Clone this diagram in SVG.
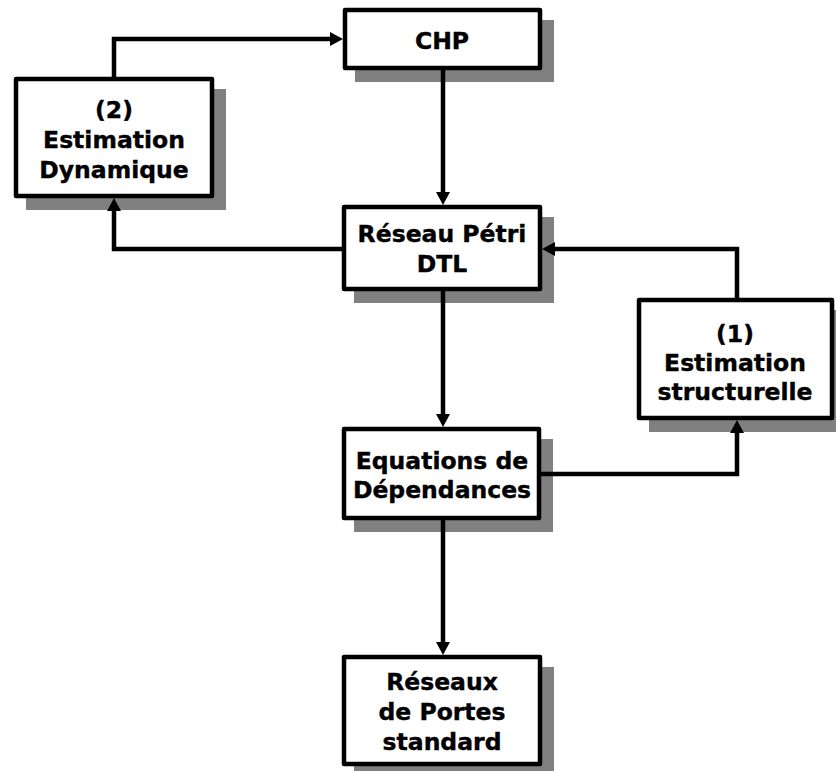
<svg xmlns="http://www.w3.org/2000/svg" width="836" height="771" viewBox="0 0 836 771">
<style>
.shadow{fill:#808080;stroke:none}
.box{fill:#ffffff;stroke:#000000;stroke-width:4.5;stroke-linejoin:round}
.lbl{font-family:"DejaVu Sans","Liberation Sans",sans-serif;font-weight:bold;font-size:23.5px;fill:#000000;text-anchor:middle;stroke:#000000;stroke-width:0.4}
.conn{fill:none;stroke:#000000;stroke-width:4.5;stroke-linejoin:miter}
</style>
<defs>
<marker id="arr" markerUnits="userSpaceOnUse" markerWidth="14" markerHeight="14" refX="5" refY="7" orient="auto">
<path d="M0,0 L13,7 L0,14 z" fill="#000000"/>
</marker>
</defs>
<rect width="836" height="771" fill="#ffffff"/>
<g id="chp">
<rect class="shadow" x="355" y="20" width="199" height="62"/>
<rect class="box" x="345" y="10" width="195" height="58"/>
<text class="lbl" x="442" y="49">CHP</text>
</g>
<g id="estimation-dynamique">
<rect class="shadow" x="26" y="89" width="200" height="121"/>
<rect class="box" x="16" y="79" width="196" height="117"/>
<text class="lbl" x="114" y="118">(2)</text>
<text class="lbl" x="114" y="148">Estimation</text>
<text class="lbl" x="114" y="178">Dynamique</text>
</g>
<g id="reseau-petri">
<rect class="shadow" x="354" y="217" width="200" height="86"/>
<rect class="box" x="344" y="207" width="196" height="82"/>
<text class="lbl" x="442" y="242">Réseau Pétri</text>
<text class="lbl" x="442" y="272">DTL</text>
</g>
<g id="estimation-structurelle">
<rect class="shadow" x="649" y="310" width="197" height="122"/>
<rect class="box" x="639" y="300" width="193" height="118"/>
<text class="lbl" x="735" y="342">(1)</text>
<text class="lbl" x="735" y="371">Estimation</text>
<text class="lbl" x="735" y="400">structurelle</text>
</g>
<g id="equations">
<rect class="shadow" x="354" y="439" width="199" height="93"/>
<rect class="box" x="344" y="429" width="195" height="89"/>
<text class="lbl" x="442" y="469">Equations de</text>
<text class="lbl" x="442" y="498">Dépendances</text>
</g>
<g id="reseaux-portes">
<rect class="shadow" x="354" y="667" width="200" height="111"/>
<rect class="box" x="344" y="657" width="196" height="107"/>
<text class="lbl" x="442" y="690">Réseaux</text>
<text class="lbl" x="442" y="720">de Portes</text>
<text class="lbl" x="442" y="750">standard</text>
</g>
<g id="connectors">
<path class="conn" d="M114,77 V39 H335" marker-end="url(#arr)"/>
<path class="conn" d="M443,70 V197" marker-end="url(#arr)"/>
<path class="conn" d="M342,249 H114 V206" marker-end="url(#arr)"/>
<path class="conn" d="M443,291 V419" marker-end="url(#arr)"/>
<path class="conn" d="M541,474 H737 V428" marker-end="url(#arr)"/>
<path class="conn" d="M737,298 V249 H550" marker-end="url(#arr)"/>
<path class="conn" d="M443,520 V647" marker-end="url(#arr)"/>
</g>
</svg>
